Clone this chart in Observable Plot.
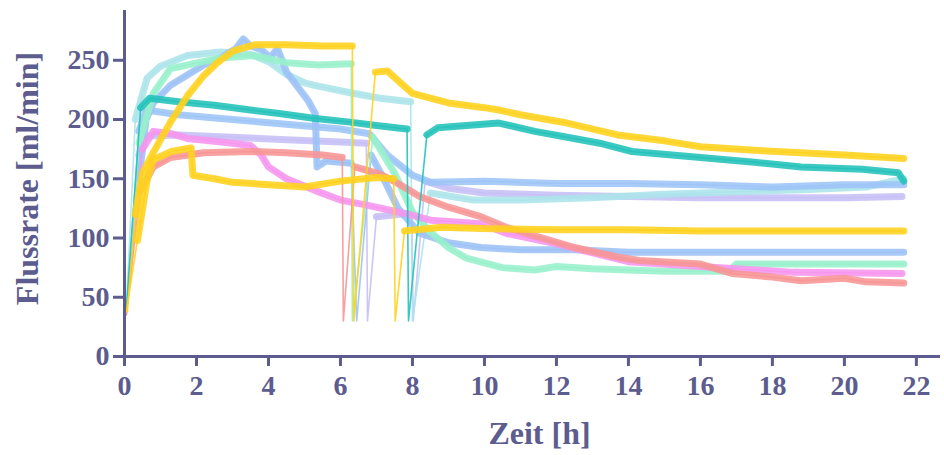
<!DOCTYPE html>
<html>
<head>
<meta charset="utf-8">
<script src="https://cdn.jsdelivr.net/npm/d3@7"></script>
<script src="https://cdn.jsdelivr.net/npm/@observablehq/plot@0.6"></script>
<style>
  body { margin: 0; background: #fff; }
  #chart svg { display: block; }
</style>
</head>
<body>
<div id="chart"></div>
<script>
// Flow rate (ml/min) over time (h) for ten filtration runs.
// Each run is a list of [hours, ml/min]; the short dips to ~30 ml/min are pump pauses.
const goldA = [[0.08,38],[0.3,120],[0.5,155],[0.8,172],[1.28,198],[1.75,220],[2.2,237],[2.58,248],[3.03,258],[3.6,263],[4.5,263],[5.5,262],[6.33,262],[6.37,30],[6.97,240],[7.3,241],[7.7,230],[8.0,222],[9,214],[10,210],[10.4,208],[11,204],[12.3,197],[13.7,187],[15,182],[16,177],[17.5,174],[18.8,172],[20,170],[21.65,167]];
const goldB = [[0.05,38],[0.36,98],[0.63,149],[0.8,166],[1.3,173],[1.85,176],[1.9,153],[2.5,150],[3,147],[4,145],[5,143],[6,148],[7,151],[7.48,150],[7.52,30],[7.78,106],[8.8,109],[9.9,108],[12,107],[14,107],[16,106],[18,106],[20,106],[21.65,106]];
const teal = [[0.05,40],[0.45,210],[0.7,218],[1.5,215],[2.5,212],[3.5,208],[4.3,205],[5.25,201],[6.2,198],[7.0,195],[7.85,192],[7.89,30],[8.4,187],[8.7,193],[9.5,195],[10.4,197],[11.4,190],[12.3,185],[13.2,180],[14.1,173],[16,168],[17.5,164],[18.8,160],[20.5,158],[21.5,155],[21.65,148]];
const paleCyan = [[0.05,40],[0.3,200],[0.63,235],[1,245],[1.75,254],[2.67,257],[3.5,255],[4.05,248],[4.5,238],[5,231],[5.25,229],[6.2,223],[7.1,218],[7.95,215],[8.0,30],[8.5,138],[9.7,132],[11,132],[13,134],[15,137],[17,139],[19,141],[20.6,143],[21.65,150]];
const mint = [[0.05,40],[0.4,180],[0.8,222],[1.28,243],[2.67,252],[3.6,254],[4.5,248],[5.4,246],[6.3,247],[6.33,30],[6.9,185],[7.5,155],[8.0,122],[8.5,105],[9,92],[9.5,83],[10,79],[10.5,75],[11.4,73],[12,76],[13,74],[14,73],[15,72],[16.8,72],[17,78],[18,78],[20,78],[21.65,78]];
const bluePeak = [[0.05,35],[0.4,150],[0.6,200],[0.8,214],[1.28,229],[2.2,246],[2.67,252],[3.1,260],[3.3,268],[3.5,262],[3.8,259],[4.05,252],[4.25,260],[4.5,240],[4.8,228],[5.1,216],[5.3,205],[5.35,160],[5.6,165],[6.3,163],[6.45,30],[6.85,170],[7.2,150],[7.6,125],[8.2,104],[9,96],[9.9,92],[11,90],[12.5,90],[14,88],[16,88],[18,88],[20,88],[21.65,88]];
const blueFlat = [[0.05,35],[0.4,190],[0.6,208],[1.5,204],[3,200],[4.5,196],[6,192],[6.8,188],[7.3,170],[8,153],[8.5,147],[10,148],[12,146],[14,146],[16,145],[18,143],[20,145],[21.65,145]];
const lavender = [[0.05,38],[0.4,170],[0.6,186],[1.5,187],[3,185],[4.5,183],[6,181],[6.72,180],[6.75,30],[7.0,118],[7.98,121],[8.02,30],[8.35,148],[9,142],[10,138],[12,136],[14,135],[16,134],[18,134],[20,134],[21.6,135]];
const salmon = [[0.05,35],[0.44,140],[0.8,160],[1.28,168],[2.2,172],[3.5,173],[4.5,172],[5.5,170],[6.05,168],[6.08,30],[6.4,160],[7.1,154],[7.6,146],[8.2,135],[9,126],[9.9,118],[10.6,109],[12.5,92],[13.7,84],[14.3,81],[16,78],[16.9,70],[18,67],[18.8,64],[20,66],[20.6,63],[21.65,62]];
const pink = [[0.05,38],[0.5,175],[0.8,190],[1.3,188],[1.75,184],[2.7,181],[3.5,178],[3.8,170],[4.0,160],[4.5,150],[5.3,140],[6.0,132],[6.7,128],[7.9,120],[8.5,115],[9.9,112],[10.6,104],[12,95],[14,80],[16,76],[18.6,71],[21.6,70]];

// drawing order, bottom to top
const seriesNames = ["lavender", "paleCyan", "blueFlat", "bluePeak", "mint", "pink", "salmon", "teal", "goldB", "goldA"];
const seriesData = [lavender, paleCyan, blueFlat, bluePeak, mint, pink, salmon, teal, goldB, goldA];
const seriesColors = ["#c6bff6", "#ace4ea", "#9dc4f7", "#9cc2f6", "#97f0cb", "#f695ee", "#f79595", "#22c2ba", "#ffd21c", "#ffd21c"];

const xTicks = [0, 2, 4, 6, 8, 10, 12, 14, 16, 18, 20, 22];
const yTicks = [0, 50, 100, 150, 200, 250];
const xTitle = "Zeit [h]";
const yTitle = "Flussrate [ml/min]";

// readings at or below this level belong to a pump pause or start-up
const pauseLevel = 45;

const axisColor = "#5c5c8e";
const font = "Liberation Serif, Times New Roman, serif";

// Full traces (thin, shows pause dips) and steady stretches (thick, noisy band)
const marks = [];
seriesNames.forEach((name, i) => {
  const color = seriesColors[i];
  const pts = seriesData[i].map(([t, v]) => ({t, v}));
  let run = 0;
  const steady = [];
  seriesData[i].forEach(([t, v]) => {
    if (v <= pauseLevel) { run++; return; }
    steady.push({t, v, run});
  });
  marks.push(Plot.line(pts, {x: "t", y: "v", stroke: color, strokeWidth: 1.6, strokeOpacity: 0.9}));
  marks.push(Plot.line(steady, {x: "t", y: "v", z: "run", stroke: color, strokeWidth: 7, strokeOpacity: 0.88, strokeLinejoin: "round"}));
});

const chart = Plot.plot({
  width: 944,
  height: 455,
  marginLeft: 124,
  marginRight: 4,
  marginTop: 10,
  marginBottom: 99,
  style: {fontFamily: font, fontWeight: "bold", color: axisColor, background: "#fff", overflow: "visible"},
  x: {domain: [0, 22.67]},
  y: {domain: [0, 292]},
  marks: [
    ...marks,
    Plot.ruleX([0], {stroke: axisColor, strokeWidth: 3}),
    Plot.ruleY([0], {stroke: axisColor, strokeWidth: 3}),
    Plot.axisX({ticks: xTicks, tickSize: 10, tickPadding: 9, strokeWidth: 3, stroke: axisColor, fill: axisColor, fontSize: 28, fontWeight: "bold", label: null}),
    Plot.axisY({ticks: yTicks, tickSize: 11, tickPadding: 4, strokeWidth: 3, stroke: axisColor, fill: axisColor, fontSize: 28, fontWeight: "bold", label: null}),
    Plot.text([xTitle], {frameAnchor: "bottom", textAnchor: "middle", dx: 7, dy: 87, fontSize: 32, fontWeight: "bold", fill: axisColor, fontFamily: font}),
    Plot.text([yTitle], {frameAnchor: "left", textAnchor: "middle", dx: -97, dy: -5, rotate: -90, fontSize: 32, fontWeight: "bold", fill: axisColor, fontFamily: font})
  ]
});

document.getElementById("chart").append(chart);
</script>
</body>
</html>
